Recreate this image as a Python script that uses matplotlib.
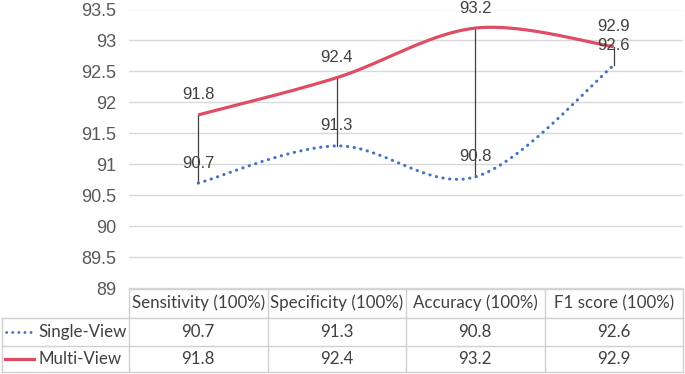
import numpy as np
import matplotlib
matplotlib.use("Agg")
import matplotlib.pyplot as plt
from matplotlib.lines import Line2D
from matplotlib.transforms import blended_transform_factory

categories = ["Sensitivity (100%)", "Specificity (100%)", "Accuracy (100%)", "F1 score (100%)"]
single_view = [90.7, 91.3, 90.8, 92.6]
multi_view = [91.8, 92.4, 93.2, 92.9]
series_names = ["Single-View", "Multi-View"]
yticks = [89, 89.5, 90, 90.5, 91, 91.5, 92, 92.5, 93, 93.5]

BLUE = "#4472C4"
RED = "#DE4D63"
GRID = "#D9D9D9"
TXT = "#404040"
TICK = "#595959"

W, H = 685, 374
fig = plt.figure(figsize=(W / 100, H / 100), dpi=100)


def fy(py):
    return 1 - py / H


def fx(px):
    return px / W


ax = fig.add_axes([fx(129), fy(288.5), (683 - 129) / W, (288.5 - 9.5) / H])
ax.set_xlim(-0.5, 3.5)
ax.set_ylim(89, 93.5)
ax.set_yticks(yticks)
ax.set_yticklabels(["%g" % v for v in yticks], fontsize=13, color=TICK,
                   family="Liberation Sans")
ax.set_xticks([])
ax.tick_params(axis="y", length=0, pad=9)
for s in ax.spines.values():
    s.set_visible(False)
ax.yaxis.grid(True, color=GRID, lw=1.0)
ax.set_axisbelow(True)


def smooth(xs, ys, n=60):
    pts = np.column_stack([xs, ys]).astype(float)
    ext = np.vstack([pts[0], pts, pts[-1]])
    out = []
    t = np.linspace(0, 1, n)[:, None]
    for i in range(len(pts) - 1):
        p0, p1, p2, p3 = ext[i], ext[i + 1], ext[i + 2], ext[i + 3]
        c1 = p1 + (p2 - p0) / 6
        c2 = p2 - (p3 - p1) / 6
        seg = ((1 - t) ** 3) * p1 + 3 * ((1 - t) ** 2) * t * c1 + 3 * (1 - t) * t ** 2 * c2 + t ** 3 * p2
        out.append(seg if i == 0 else seg[1:])
    seg = np.vstack(out)
    return seg[:, 0], seg[:, 1]


x = np.arange(len(categories))

# high-low lines
for xi, a, b in zip(x, single_view, multi_view):
    ax.plot([xi, xi], [a, b], color=TXT, lw=0.9, zorder=2)

sx, sy = smooth(x, single_view)
ax.plot(sx, sy, color=BLUE, lw=2.2, linestyle=(0, (0.1, 2.1)),
        dash_capstyle="round", zorder=3)
mx, my = smooth(x, multi_view)
ax.plot(mx, my, color=RED, lw=2.3, solid_capstyle="butt", zorder=3)

for xi, v in zip(x, single_view):
    ax.annotate("%g" % v, (xi, v), xytext=(0, 20), textcoords="offset pixels",
                ha="center", va="center", fontsize=12, color=TXT,
                family="Liberation Sans", zorder=4)
for xi, v in zip(x, multi_view):
    ax.annotate("%g" % v, (xi, v), xytext=(0, 20), textcoords="offset pixels",
                ha="center", va="center", fontsize=12, color=TXT,
                family="Liberation Sans", zorder=4)

# data table
BORDER = "#D0D0D0"
tr = blended_transform_factory(ax.transData, fig.transFigure)


def hline(x0, x1, py):
    fig.add_artist(Line2D([fx(x0), fx(x1)], [fy(py), fy(py)], color=BORDER, lw=1.0))


def vline_fig(px, y0, y1):
    fig.add_artist(Line2D([fx(px), fx(px)], [fy(y0), fy(y1)], color=BORDER, lw=1.0))


hline(129, 683, 288.5)
hline(2, 683, 318)
hline(2, 683, 346)
hline(2, 683, 372)
vline_fig(2, 318, 372)
vline_fig(129, 288.5, 372)
for b in [0.5, 1.5, 2.5, 3.5]:
    fig.add_artist(Line2D([b, b], [fy(288.5), fy(372)], color=BORDER, lw=1.0, transform=tr))

TFONT = "Lato"
TSIZE = 12.2
for xi, c in zip(x, categories):
    fig.text(xi, fy(303), c, transform=tr, ha="center", va="center",
             fontsize=TSIZE, color=TXT, family=TFONT)
for xi, v in zip(x, single_view):
    fig.text(xi, fy(332), "%g" % v, transform=tr, ha="center", va="center",
             fontsize=TSIZE, color=TXT, family=TFONT)
for xi, v in zip(x, multi_view):
    fig.text(xi, fy(359), "%g" % v, transform=tr, ha="center", va="center",
             fontsize=TSIZE, color=TXT, family=TFONT)

# legend keys
fig.add_artist(Line2D([fx(6), fx(32)], [fy(332), fy(332)], color=BLUE, lw=2.0,
                      linestyle=(0, (0.1, 2.1)), dash_capstyle="round"))
fig.add_artist(Line2D([fx(5), fx(34)], [fy(359), fy(359)], color=RED, lw=2.3))
fig.text(fx(38), fy(332), series_names[0], ha="left", va="center", fontsize=TSIZE,
         color=TXT, family=TFONT)
fig.text(fx(38), fy(359), series_names[1], ha="left", va="center", fontsize=TSIZE,
         color=TXT, family=TFONT)

fig.savefig("out.png", dpi=100, facecolor="white")
